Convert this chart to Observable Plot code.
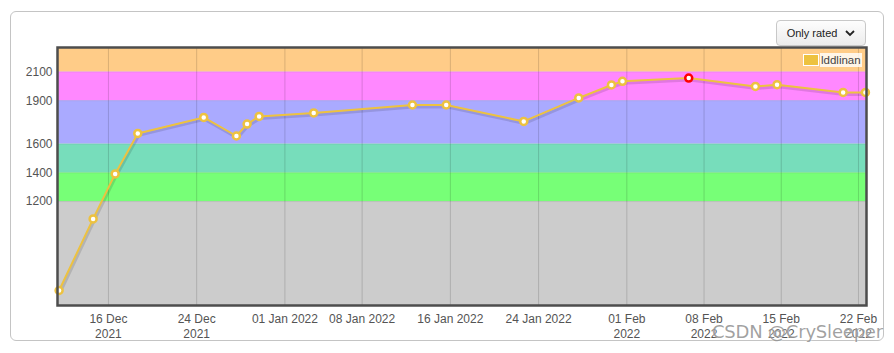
<!DOCTYPE html>
<html>
<head>
<meta charset="utf-8">
<script src="https://cdn.jsdelivr.net/npm/d3@7"></script>
<script src="https://cdn.jsdelivr.net/npm/@observablehq/plot@0.6"></script>
<style>
  html, body { margin: 0; padding: 0; background: #fff; }
  #wrap { position: relative; width: 894px; height: 353px; overflow: hidden; font-family: "Liberation Sans", Arial, sans-serif; }
  #box { position: absolute; left: 10px; top: 11px; width: 872px; height: 328px; border: 1px solid #c4c4c4; border-radius: 6px; }
  #btn { position: absolute; left: 776px; top: 20px; width: 90px; height: 26px; border: 1px solid #c8c8c8; border-radius: 4px;
         background: linear-gradient(#fdfdfd, #ececec); font-size: 11px; color: #222; box-sizing: border-box;
         display: flex; align-items: center; justify-content: center; gap: 8px; }
  #chart { position: absolute; left: 0; top: 0; }
  #legend { position: absolute; left: 803px; top: 53px; display: flex; align-items: center; font-size: 11.5px; color: #444; }
  #legend .sw { width: 14px; height: 10px; border: 1px solid #fff; background: #EDC240; margin-right: 1px; }
  #legend .tx { background: rgba(255,255,255,0.8); padding: 0 1px; line-height: 14px; }
  #wm { position: absolute; left: 712px; top: 321px; font-size: 18px; color: rgba(125,125,125,0.72);
        font-family: "DejaVu Sans", sans-serif; text-shadow: 0 0 2px #fff; letter-spacing: -0.2px; }
</style>
</head>
<body>
<div id="wrap">
  <div id="box"></div>
  <div id="chart"></div>
  <div id="btn"><span>Only rated</span><svg width="10" height="7" viewBox="0 0 10 7"><path d="M1 1 L5 5 L9 1" fill="none" stroke="#222" stroke-width="1.8"/></svg></div>
  <div id="legend"><div class="sw"></div><div class="tx">lddlinan</div></div>
  <div id="wm">CSDN @CrySleeper</div>
</div>
<script>
// ---- data ----
const contestDates = [
  "2021-12-11T12:40Z", "2021-12-14T14:40Z", "2021-12-16T14:40Z", "2021-12-18T15:50Z",
  "2021-12-24T15:20Z", "2021-12-27T14:30Z", "2021-12-28T13:40Z", "2021-12-29T15:50Z",
  "2022-01-03T14:40Z", "2022-01-12T13:30Z", "2022-01-15T15:00Z", "2022-01-22T15:40Z",
  "2022-01-27T15:20Z", "2022-01-30T14:30Z", "2022-01-31T14:30Z", "2022-02-06T14:40Z",
  "2022-02-12T15:50Z", "2022-02-14T14:50Z", "2022-02-20T14:40Z", "2022-02-22T15:10Z"
];
const ratings = [583, 1080, 1392, 1673, 1784, 1655, 1738, 1791, 1815, 1870, 1870, 1756,
                 1919, 2009, 2034, 2057, 1999, 2011, 1957, 1957];

const bandLow  = [0,    1200, 1400, 1600, 1900, 2100];
const bandHigh = [1200, 1400, 1600, 1900, 2100, 2300];
const bandColors = ["#CCCCCC", "#77FF77", "#77DDBB", "#AAAAFF", "#FF88FF", "#FFCC88"];

const yTicks = [1200, 1400, 1600, 1900, 2100];
const xTickDates = ["2021-12-16", "2021-12-24", "2022-01-01", "2022-01-08", "2022-01-16",
                    "2022-01-24", "2022-02-01", "2022-02-08", "2022-02-15", "2022-02-22"];
const xTickLabels = ["16 Dec\n2021", "24 Dec\n2021", "01 Jan 2022", "08 Jan 2022", "16 Jan 2022",
                     "24 Jan 2022", "01 Feb\n2022", "08 Feb\n2022", "15 Feb\n2022", "22 Feb\n2022"];
const xDomain = ["2021-12-11T09:10Z", "2022-02-22T17:30Z"];
const yDomain = [479, 2269];
const seriesName = "lddlinan";

// ---- build ----
const pts = contestDates.map((d, i) => ({date: new Date(d), rating: ratings[i]}));
const maxR = d3.max(ratings);
const maxPt = pts.filter(p => p.rating === maxR);
const otherPts = pts.filter(p => p.rating !== maxR);
const bands = bandLow.map((lo, i) => ({lo, hi: bandHigh[i], color: bandColors[i]}));
const xd = xDomain.map(d => new Date(d));
const xt = xTickDates.map(d => new Date(d + "T00:00Z"));
const labelMap = new Map(xt.map((d, i) => [+d, xTickLabels[i]]));
const xFmt = d => labelMap.get(+d);

const hasAxisMark = typeof Plot.axisX === "function";
const xAxisMarks = hasAxisMark
  ? [Plot.axisX(xt, {tickFormat: xFmt, tickSize: 0, tickPadding: 8, lineHeight: 1.17, label: null})]
  : [];

const chart = Plot.plot({
  width: 894, height: 353,
  marginLeft: 57, marginRight: 28, marginTop: 47, marginBottom: 48,
  style: {fontFamily: "'Liberation Sans', Arial, sans-serif", fontSize: "12px", background: "transparent", color: "#545454"},
  x: hasAxisMark
    ? {type: "utc", domain: xd, axis: null}
    : {type: "utc", domain: xd, ticks: xt, tickFormat: xFmt, tickSize: 0, tickPadding: 8, label: null},
  y: {domain: yDomain, ticks: yTicks, tickFormat: d3.format("d"), tickSize: 0, tickPadding: 5, label: null},
  marks: [
    Plot.rect(bands, {x1: () => xd[0], x2: () => xd[1], y1: "lo", y2: "hi", fill: "color", clip: true}),
    Plot.ruleY(yTicks, {stroke: "#000", strokeOpacity: 0.08}),
    Plot.ruleX(xt, {stroke: "#000", strokeOpacity: 0.15}),
    Plot.line(pts, {x: "date", y: "rating", stroke: "#000", strokeOpacity: 0.12, strokeWidth: 3, dx: 1, dy: 2}),
    Plot.line(pts, {x: "date", y: "rating", stroke: "#EDC240", strokeWidth: 2}),
    Plot.dot(otherPts, {x: "date", y: "rating", r: 3.5, fill: "#fff", stroke: "#EDC240", strokeWidth: 2.5}),
    Plot.dot(maxPt, {x: "date", y: "rating", r: 3.5, fill: "#fff", stroke: "#FF0000", strokeWidth: 2.5}),
    Plot.frame({stroke: "#4d4d4d", strokeWidth: 2.5}),
    ...xAxisMarks
  ]
});
document.getElementById("chart").appendChild(chart);
document.querySelector("#legend .tx").textContent = seriesName;
</script>
</body>
</html>
